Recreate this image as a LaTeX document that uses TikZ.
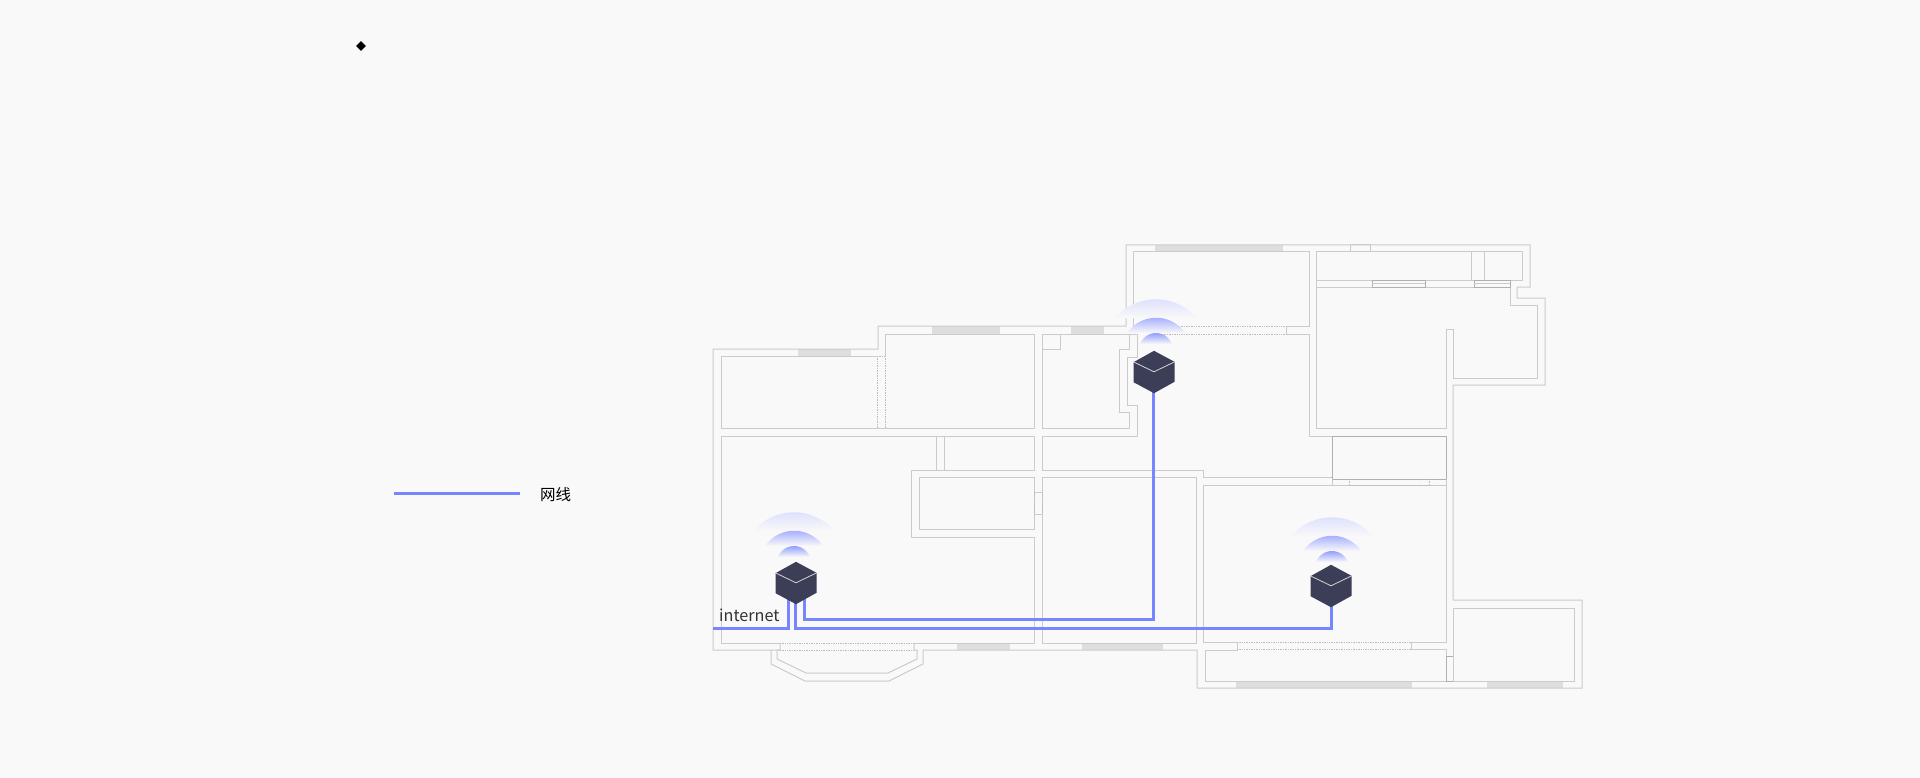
\documentclass[tikz,border=0pt]{standalone}
\usepackage{fontspec}
\newfontfamily\cjk{Noto Sans CJK SC}
\usetikzlibrary{shapes.geometric}
\definecolor{paper}{HTML}{F9F9F9}
\definecolor{wall}{HTML}{CBCBCB}
\definecolor{wallb}{HTML}{B0B0B0}
\definecolor{doorc}{HTML}{BDBDBD}
\definecolor{pane}{HTML}{DEDEDE}
\definecolor{cable}{HTML}{7785FF}
\definecolor{cube}{HTML}{3C3D57}
\definecolor{waveA}{HTML}{DADEFD}
\definecolor{waveB}{HTML}{A2ACFF}
\definecolor{waveC}{HTML}{7F8DFF}

\begin{document}
\begin{tikzpicture}[
		x=1pt, y=-1pt,
		wallline/.style={draw=wall, line width=1pt},
		darkline/.style={draw=wallb, line width=1pt},
		doorline/.style={draw=doorc, line width=0.7pt, densely dotted},
		glass/.style={fill=pane},
		cableline/.style={draw=cable, line width=3pt},
		routerbox/.style={rectangle, minimum width=41pt, minimum height=42pt, inner sep=0pt}
		]
		\useasboundingbox (0,0) rectangle (1920,778);
		\fill[paper] (0,0) rectangle (1920,778);

		% window panes
		\fill[glass] (798,349) rectangle (851,356);
		\fill[glass] (932,326) rectangle (1000,334);
		\fill[glass] (1071,326) rectangle (1104,334);
		\fill[glass] (1155,245) rectangle (1283,252);
		\fill[glass] (957,643) rectangle (1010,650);
		\fill[glass] (1082,643) rectangle (1163,650);
		\fill[glass] (1236,681) rectangle (1412,688);
		\fill[glass] (1487,681) rectangle (1563,688);

		% outer wall
		\draw[wallline] (780,650) -- (771,650) -- (771,664) -- (805,681) -- (889,681) -- (923,664) -- (923,650)
			-- (1197,650) -- (1197,688) -- (1582,688) -- (1582,600) -- (1453,600) -- (1453,385) -- (1545,385)
			-- (1545,298) -- (1517,298) -- (1517,287) -- (1530,287) -- (1530,245) -- (1126,245) -- (1126,326)
			-- (878,326) -- (878,349) -- (713,349) -- (713,650) -- (771,650);

		% rooms
		\draw[wallline] (877,356) -- (721,356) -- (721,428) -- (1034,428) -- (1034,334) -- (885,334) -- (885,356);
		\draw[wallline] (1155,326) -- (1133,326) -- (1133,252) -- (1309,252) -- (1309,326) -- (1286,326) -- (1286,334)
			-- (1309,334) -- (1309,436) -- (1332,436);
		\draw[wallline] (1042,428) -- (1042,334) -- (1129,334) -- (1129,349) -- (1119,349) -- (1119,412)
			-- (1129,412) -- (1129,428) -- cycle;
		\draw[wallline] (1042,334) rectangle (1060,349);
		\draw[wallline] (1129,334) -- (1137,334) -- (1137,357) -- (1127,357) -- (1127,405) -- (1137,405)
			-- (1137,436) -- (1042,436) -- (1042,470) -- (1203,470) -- (1203,477) -- (1332,477);
		\draw[wallline] (1316,252) rectangle (1522,280);
		\draw[wallline] (1471,252) rectangle (1484,280);
		\draw[wallline] (1350,245) rectangle (1370,252);
		\draw[wallline] (1510,280) -- (1510,305) -- (1537,305) -- (1537,378) -- (1453,378) -- (1453,329)
			-- (1446,329) -- (1446,428) -- (1316,428) -- (1316,280);
		\draw[wallline] (1316,287) -- (1510,287);
		\draw[darkline] (1372,280) rectangle (1425,287);
		\draw[wallline] (1372,283.5) -- (1425,283.5);
		\draw[darkline] (1474,280) rectangle (1510,287);
		\draw[wallline] (1474,283.5) -- (1510,283.5);

		\draw[darkline] (1332,436) rectangle (1446,479);
		\draw[wallline] (1332,479) -- (1332,485);
		\draw[wallline] (1446,479) -- (1446,642) -- (1411,642) -- (1411,649) -- (1446,649) -- (1446,656);
		\draw[wallline] (1205,650) -- (1237,650) -- (1237,642) -- (1203,642) -- (1203,485) -- (1446,485);
		\draw[wallline] (1205,650) -- (1205,681) -- (1446,681) -- (1446,649);
		\draw[darkline] (1446,656) rectangle (1453,681);
		\draw[wallline] (1453,608) rectangle (1574,681);

		\draw[wallline] (919,477) rectangle (1034,529);
		\draw[wallline] (1042,477) rectangle (1196,643);
		\draw[wallline] (780,643) -- (721,643) -- (721,436) -- (1034,436) -- (1034,470) -- (911,470)
			-- (911,537) -- (1034,537) -- (1034,643) -- (914,643);
		\draw[wallline] (780,643) -- (780,650) -- (777,650) -- (777,659) -- (806,673) -- (888,673)
			-- (917,659) -- (917,650) -- (914,650) -- (914,643);
		\draw[wallline] (1034,492) -- (1042,492);
		\draw[wallline] (1034,514) -- (1042,514);
		\draw[wallline] (1155,326) -- (1155,334);
		\draw[wallline] (936,436) -- (936,470);
		\draw[wallline] (944,436) -- (944,470);

		% doors
		\draw[doorline] (877,356) -- (885,356);
		\draw[doorline] (877,356) -- (877,428);
		\draw[doorline] (885,356) -- (885,428);
		\draw[doorline] (1034,492) -- (1034,514);
		\draw[doorline] (1042,492) -- (1042,514);
		\draw[doorline] (780,643) -- (914,643);
		\draw[doorline] (780,650) -- (914,650);
		\draw[doorline] (1155,326) -- (1286,326);
		\draw[doorline] (1155,334) -- (1286,334);
		\draw[doorline] (1237,642) -- (1411,642);
		\draw[doorline] (1237,649) -- (1411,649);
		\draw[doorline] (1349,485) -- (1429,485);
		\draw[doorline] (1349,479) -- (1349,485);
		\draw[doorline] (1429,479) -- (1429,485);

		% wifi signal
		\foreach \cx/\cy in {794/566, 1156/353, 1332/571}{
			\shade[top color=waveA, middle color=waveA!40!paper, bottom color=paper, shift={(\cx,\cy)}]
				(-40.7,-35) arc[start angle=220.7, end angle=319.3, radius=53.7] -- cycle;
			\shade[top color=waveB, middle color=waveB!30!paper, bottom color=paper, shift={(\cx,\cy)}]
				(-29,-20) arc[start angle=214.6, end angle=325.4, radius=35.4] -- cycle;
			\shade[top color=waveC, middle color=waveC!25!paper, bottom color=paper, shift={(\cx,\cy)}]
				(-15.9,-9) arc[start angle=200.7, end angle=339.3, radius=17] -- cycle;
		}

		\node[routerbox] (R0) at (796,583) {};
		\node[routerbox] (R1) at (1154,372) {};
		\node[routerbox] (R2) at (1331,586) {};
		\coordinate (inlet) at (713,628);
		\coordinate (keyl) at (394,493);
		\coordinate (keyr) at (520,493);

		% cables
		\draw[cableline] (inlet) -| ([xshift=-8pt,yshift=8pt]R0.south);
		\draw[cableline] ([xshift=-1pt,yshift=4pt]R0.south) -- ++(0,28) -| ([yshift=4pt]R2.south);
		\draw[cableline] ([xshift=8pt,yshift=8pt]R0.south) -- ++(0,23) -| ([xshift=-1pt,yshift=4pt]R1.south);
		\draw[cableline] (keyl) -- (keyr);

		\foreach \r in {R0, R1, R2}{
			\fill[cube] (\r.north) -- ++(20.5,11) -- ++(0,20) -- (\r.south) -- ++(-20.5,-11) -- ++(0,-20) -- cycle;
			\draw[paper!85!black, line width=0.8pt] ([yshift=-11pt]\r.north west) -- ([yshift=-21pt]\r.north) -- ([yshift=-11pt]\r.north east);
		}

		\node[anchor=west, inner sep=0pt, text=black!80, font=\cjk\fontsize{16.2}{20}\selectfont] (inet) at (719,615) {internet};
		\node[anchor=west, inner sep=0pt, font=\cjk\fontsize{15.5}{19}\selectfont] (keytext) at (540,495) {网线};
		\node[diamond, fill=black, inner sep=0pt, minimum size=10pt] (mark) at (361,46) {};
\end{tikzpicture}
\end{document}
